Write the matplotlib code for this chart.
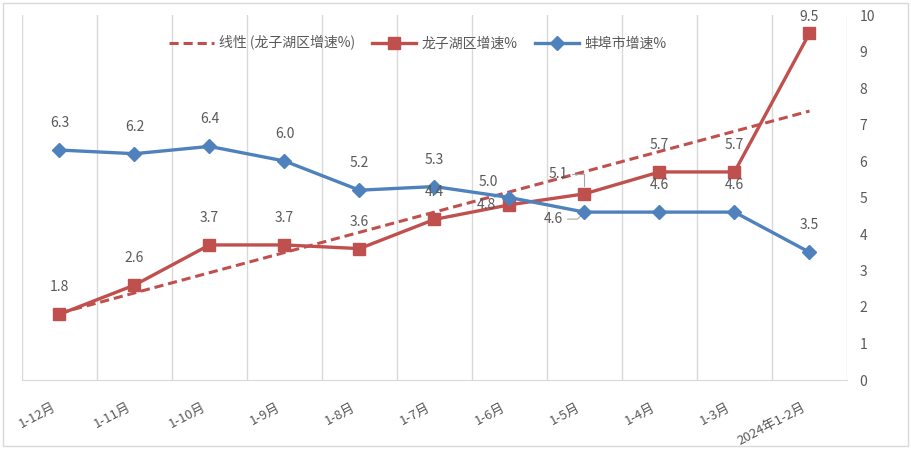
import numpy as np
import matplotlib
matplotlib.use("Agg")
from matplotlib import pyplot as plt
from matplotlib.patches import Rectangle
from matplotlib.transforms import ScaledTranslation

plt.rcParams["font.family"] = ["Noto Sans CJK SC", "DejaVu Sans"]

# data
months = ["1-12月", "1-11月", "1-10月", "1-9月", "1-8月", "1-7月",
          "1-6月", "1-5月", "1-4月", "1-3月", "2024年1-2月"]
bengbu = [6.3, 6.2, 6.4, 6.0, 5.2, 5.3, 5.0, 4.6, 4.6, 4.6, 3.5]
longzihu = [1.8, 2.6, 3.7, 3.7, 3.6, 4.4, 4.8, 5.1, 5.7, 5.7, 9.5]

blue = "#4F81BD"
red = "#C0504D"
grey = "#595959"
gridc = "#D9D9D9"

fig = plt.figure(figsize=(9.12, 4.49), dpi=100)
ax = fig.add_axes([22 / 912, 69 / 449, 825 / 912, 365 / 449])

x = np.arange(len(months))

# linear trendline on the Longzihu series (like Excel's "线性")
k, b = np.polyfit(x, longzihu, 1)
ax.plot(x, k * x + b, "--", color=red, lw=2.2, dashes=(3, 1.6), zorder=2,
        label="线性 (龙子湖区增速%)")
ax.plot(x, longzihu, color=red, lw=2.4, marker="s", ms=9, zorder=3,
        label="龙子湖区增速%")
ax.plot(x, bengbu, color=blue, lw=2.4, marker="D", ms=7, zorder=4,
        label="蚌埠市增速%")

# data labels ---------------------------------
lblkw = dict(textcoords="offset pixels", ha="center", va="center",
             fontsize=10, color=grey, zorder=5)
blue_off = [(0, 27)] * 11
blue_off[6] = (-21, 16)
blue_off[7] = (-31, -7)
red_off = [(0, 27)] * 11
red_off[6] = (-23, 0)
red_off[7] = (-26, 20)
red_off[10] = (0, 16)

for i in range(len(months)):
    ax.annotate(f"{bengbu[i]:.1f}", (x[i], bengbu[i]), xytext=blue_off[i], **lblkw)
    ax.annotate(f"{longzihu[i]:.1f}", (x[i], longzihu[i]), xytext=red_off[i], **lblkw)

# leader lines for the two shifted labels
ax.annotate("", (x[7], bengbu[7]), xytext=(-17, -7), textcoords="offset pixels",
            arrowprops=dict(arrowstyle="-", color="#A6A6A6", lw=0.8,
                            shrinkA=0, shrinkB=4,
                            connectionstyle="angle,angleA=0,angleB=45"))
ax.annotate("", (x[7], longzihu[7]), xytext=(-12, 20), textcoords="offset pixels",
            arrowprops=dict(arrowstyle="-", color="#A6A6A6", lw=0.8,
                            shrinkA=0, shrinkB=6,
                            connectionstyle="angle,angleA=0,angleB=90"))

# axes styling --------------------------------
ax.set_xlim(-0.5, len(months) - 0.5)
ax.set_ylim(0, 10)
ax.set_yticks(range(0, 11))
ax.yaxis.tick_right()
ax.tick_params(axis="y", length=0, pad=9, labelsize=10, labelcolor=grey)

ax.set_xticks(x)
ax.set_xticklabels(months, rotation=28, ha="right", rotation_mode="anchor")
ax.tick_params(axis="x", length=0, pad=15, labelsize=9.5, labelcolor=grey)
shift = ScaledTranslation(-8 / 100, 0, fig.dpi_scale_trans)
for lab in ax.get_xticklabels():
    lab.set_transform(lab.get_transform() + shift)

ax.set_xticks(np.arange(-0.5, len(months)), minor=True)
ax.tick_params(axis="x", which="minor", length=0)
ax.grid(True, which="minor", axis="x", color=gridc, lw=1)
ax.grid(False, which="major")

for s in ["top", "left", "right"]:
    ax.spines[s].set_visible(False)
ax.spines["bottom"].set_color(gridc)

ax.legend(loc="upper center", bbox_to_anchor=(418 / 912, 1 - 30 / 449),
          bbox_transform=fig.transFigure, ncol=3, frameon=False,
          fontsize=10, labelcolor=grey, handlelength=3.2, columnspacing=1.2,
          borderaxespad=0, handletextpad=0.4)

# chart border
fig.patches.append(Rectangle((3 / 912, 3 / 449), 905 / 912, 443 / 449,
                             transform=fig.transFigure, fill=False,
                             edgecolor=gridc, lw=1))

plt.savefig("out.png", dpi=100)
